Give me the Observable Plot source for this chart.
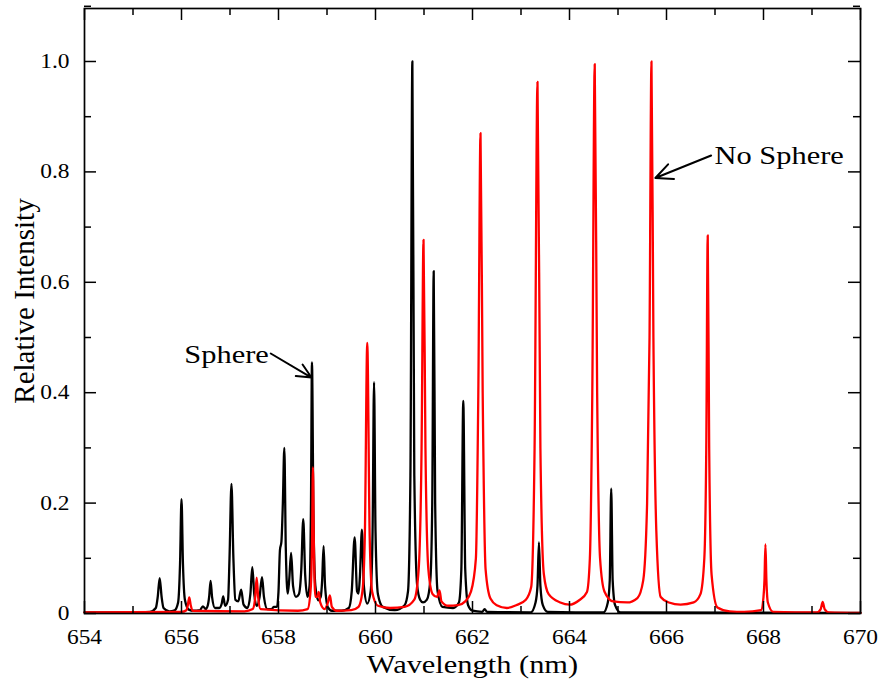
<!DOCTYPE html>
<html><head><meta charset="utf-8">
<script src="https://cdn.jsdelivr.net/npm/d3@7"></script>
<script src="https://cdn.jsdelivr.net/npm/@observablehq/plot@0.6"></script>
<style>body{margin:0;background:#fff}</style>
</head><body><div id="chart"></div>
<script>
// Sphere spectrum (black): [wavelength nm, relative intensity]
const sphere = [
[654.0,0.002],[655.0,0.002],[655.35,0.003],[655.47,0.01],[655.51,0.03],[655.55,0.064],[655.59,0.03],[655.63,0.01],[655.75,0.004],
[655.86,0.006],[655.93,0.02],[655.97,0.09],[656.0,0.207],[656.03,0.09],[656.07,0.025],[656.15,0.007],
[656.25,0.005],[656.38,0.006],[656.44,0.013],[656.5,0.008],[656.54,0.014],[656.57,0.03],[656.6,0.059],[656.63,0.03],[656.69,0.01],
[656.78,0.01],[656.83,0.018],[656.86,0.031],[656.9,0.014],[656.96,0.025],[656.99,0.1],[657.03,0.235],[657.07,0.1],[657.11,0.025],
[657.17,0.022],[657.23,0.043],[657.28,0.016],[657.36,0.01],[657.42,0.035],[657.46,0.084],[657.5,0.035],[657.55,0.014],[657.61,0.03],[657.66,0.066],[657.7,0.03],[657.77,0.008],
[657.86,0.008],[657.9,0.012],[657.97,0.012],[658.0,0.04],[658.03,0.115],[658.06,0.13],[658.09,0.2],[658.12,0.30],[658.15,0.12],[658.19,0.036],[658.22,0.06],[658.26,0.11],[658.3,0.05],[658.36,0.03],
[658.42,0.035],[658.47,0.08],[658.51,0.171],[658.55,0.07],[658.6,0.03],[658.64,0.05],[658.67,0.2],[658.69,0.455],[658.72,0.18],[658.76,0.05],[658.82,0.024],
[658.87,0.03],[658.9,0.06],[658.93,0.122],[658.96,0.05],[659.02,0.011],[659.1,0.005],[659.3,0.005],
[659.45,0.01],[659.51,0.04],[659.57,0.138],[659.62,0.04],[659.65,0.036],[659.68,0.07],[659.72,0.152],[659.76,0.05],[659.83,0.018],[659.9,0.04],[659.94,0.15],[659.97,0.419],[660.0,0.15],[660.05,0.035],[660.15,0.012],
[660.4,0.006],[660.6,0.015],[660.67,0.04],[660.72,0.25],[660.76,1.0],[660.8,0.25],[660.86,0.05],[660.92,0.025],[660.98,0.02],[661.06,0.025],[661.13,0.06],[661.17,0.2],[661.2,0.62],[661.23,0.2],[661.28,0.04],[661.38,0.012],
[661.6,0.01],[661.72,0.02],[661.77,0.08],[661.81,0.385],[661.85,0.08],[661.91,0.015],[662.0,0.005],[662.2,0.003],[662.25,0.008],[662.3,0.003],
[663.2,0.002],[663.3,0.02],[663.34,0.05],[663.37,0.129],[663.4,0.05],[663.45,0.015],[663.55,0.003],
[664.7,0.002],[664.79,0.02],[664.83,0.06],[664.86,0.226],[664.89,0.06],[664.94,0.015],[665.05,0.002],
[670.0,0.001]
];

// No Sphere spectrum (red): [wavelength nm, relative intensity]
const noSphere = [
[654.0,0.002],[656.0,0.003],[656.1,0.006],[656.13,0.015],[656.16,0.029],[656.19,0.015],[656.23,0.005],
[657.3,0.004],[657.47,0.008],[657.52,0.03],[657.55,0.065],[657.58,0.03],[657.63,0.008],
[658.4,0.005],[658.6,0.008],[658.66,0.04],[658.69,0.12],[658.71,0.265],[658.73,0.12],[658.76,0.03],[658.8,0.03],[658.83,0.039],[658.86,0.02],[658.95,0.008],[659.02,0.02],[659.06,0.033],[659.1,0.012],[659.2,0.005],
[659.5,0.006],[659.65,0.012],[659.73,0.04],[659.78,0.14],[659.83,0.49],[659.88,0.14],[659.93,0.04],[660.05,0.014],[660.3,0.01],
[660.6,0.012],[660.8,0.025],[660.89,0.08],[660.95,0.3],[660.99,0.677],[661.03,0.3],[661.09,0.08],[661.18,0.035],[661.27,0.03],[661.32,0.042],[661.36,0.022],[661.5,0.014],
[661.7,0.015],[661.85,0.022],[661.97,0.04],[662.07,0.1],[662.12,0.4],[662.165,0.87],[662.21,0.4],[662.27,0.08],[662.37,0.027],[662.5,0.015],[662.71,0.01],[662.9,0.015],
[663.1,0.025],[663.21,0.048],[663.28,0.3],[663.34,0.963],[663.4,0.3],[663.47,0.072],[663.57,0.035],[663.81,0.02],[664.0,0.016],
[664.2,0.024],[664.36,0.039],[664.42,0.1],[664.47,0.4],[664.52,0.995],[664.57,0.4],[664.63,0.1],[664.72,0.04],[664.9,0.022],[665.19,0.02],
[665.4,0.028],[665.52,0.06],[665.6,0.2],[665.65,0.5],[665.69,1.0],[665.73,0.5],[665.79,0.15],[665.88,0.03],[666.05,0.02],[666.29,0.016],
[666.56,0.02],[666.7,0.035],[666.78,0.1],[666.82,0.3],[666.85,0.685],[666.88,0.3],[666.93,0.07],[667.05,0.011],[667.3,0.004],[667.6,0.003],
[667.95,0.006],[668.0,0.03],[668.02,0.06],[668.04,0.125],[668.06,0.06],[668.09,0.02],[668.2,0.003],
[669.1,0.002],[669.18,0.008],[669.22,0.021],[669.26,0.008],[669.35,0.002],[670.0,0.001]
];

const xMajor = [654,656,658,660,662,664,666,668,670];
const xMinor = [655,657,659,661,663,665,667,669];
const yMajor = [0,0.2,0.4,0.6,0.8,1.0];
const yMinor = [0.1,0.3,0.5,0.7,0.9,1.1];
const xLabel = "Wavelength (nm)";
const yLabel = "Relative Intensity";
const notes = ["Sphere","No Sphere"];

const W = 883, H = 683, mL = 84, mR = 23, mT = 8, mB = 70;
const pw = W - mL - mR, ph = H - mT - mB;
const major = 12, minor = 7;
const tk = {stroke: "#000", strokeWidth: 1.5};

const chart = Plot.plot({
  width: W, height: H,
  marginLeft: mL, marginRight: mR, marginTop: mT, marginBottom: mB,
  style: {fontFamily: "'Liberation Serif','Times New Roman',serif", background: "#fff", color: "#000", overflow: "visible"},
  x: {domain: [654, 670]},
  y: {domain: [0, 1.096]},
  marks: [
    Plot.line(sphere, {x: d => d[0], y: d => d[1], stroke: "#000", strokeWidth: 2.3, curve: "monotone-x"}),
    Plot.line(noSphere, {x: d => d[0], y: d => d[1], stroke: "#ff0000", strokeWidth: 2.3, curve: "monotone-x"}),
    Plot.frame({stroke: "#000", strokeWidth: 1.7}),
    // inward ticks: bottom/top
    Plot.ruleX(xMajor, {x: d => d, insetTop: ph - major, ...tk}),
    Plot.ruleX(xMinor, {x: d => d, insetTop: ph - minor, ...tk}),
    Plot.ruleX(xMajor, {x: d => d, insetBottom: ph - major, ...tk}),
    Plot.ruleX(xMinor, {x: d => d, insetBottom: ph - minor, ...tk}),
    // inward ticks: left/right
    Plot.ruleY(yMajor, {y: d => d, insetRight: pw - major, ...tk}),
    Plot.ruleY(yMinor, {y: d => d, insetRight: pw - minor, ...tk}),
    Plot.ruleY(yMajor, {y: d => d, insetLeft: pw - major, ...tk}),
    Plot.ruleY(yMinor, {y: d => d, insetLeft: pw - minor, ...tk}),
    Plot.axisX({ticks: xMajor, tickSize: 0, tickPadding: 16, fontSize: 20, label: null, tickFormat: d => String(d)}),
    Plot.axisY({ticks: yMajor, tickSize: 0, tickPadding: 15, fontSize: 20, label: null, tickFormat: d => d === 0 ? "0" : d.toFixed(1)}),
    Plot.text([xLabel], {text: d => d, frameAnchor: "bottom", textAnchor: "middle", lineAnchor: "middle", dy: 51, fontSize: 26, fill: "#000"}),
    Plot.text([yLabel], {text: d => d, frameAnchor: "left", textAnchor: "middle", lineAnchor: "middle", dx: -60, dy: -10, rotate: -90, fontSize: 29, fill: "#000"}),
    // annotations
    Plot.text([notes[0]], {text: d => d, x: 657.8, y: 0.468, textAnchor: "end", fontSize: 26, fill: "#000"}),
    Plot.arrow([0], {x1: 657.84, y1: 0.471, x2: 658.68, y2: 0.4275, stroke: "#000", strokeWidth: 2, headLength: 14, headAngle: 50}),
    Plot.text([notes[1]], {text: d => d, x: 666.99, y: 0.830, textAnchor: "start", fontSize: 26, fill: "#000"}),
    Plot.arrow([0], {x1: 666.92, y1: 0.8297, x2: 665.77, y2: 0.789, stroke: "#000", strokeWidth: 2, headLength: 14, headAngle: 50})
  ]
});

document.getElementById("chart").appendChild(chart);
// horizontal stretch of the serif text to match the reference's wide glyphs
chart.querySelectorAll("text").forEach(t => {
  const tr = t.getAttribute("transform") || "";
  if (tr.includes("rotate")) return;
  if (t.querySelector("tspan")) return;
  const len = t.getComputedTextLength();
  if (len > 0) {
    t.setAttribute("textLength", (len * 1.17).toFixed(1));
    t.setAttribute("lengthAdjust", "spacingAndGlyphs");
  }
});
</script>
</body></html>
